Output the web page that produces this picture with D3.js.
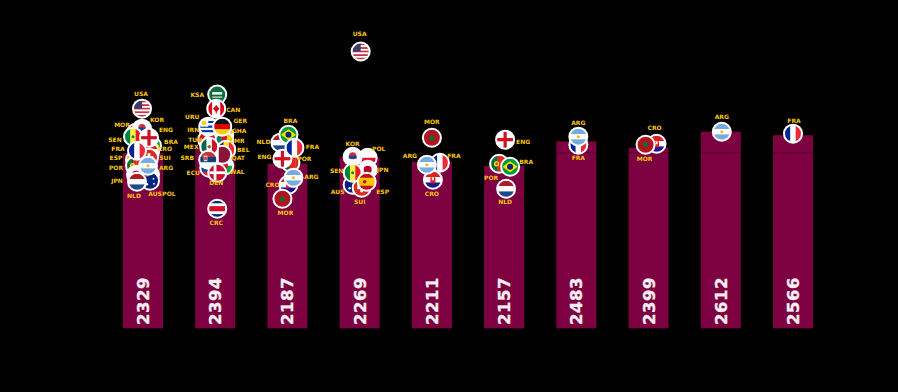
<!DOCTYPE html>
<html>
<head>
<meta charset="utf-8">
<script src="https://cdnjs.cloudflare.com/ajax/libs/d3/7.8.5/d3.min.js"></script>
<style>
html,body{margin:0;padding:0;background:#000;overflow:hidden}
svg{display:block}
</style>
</head>
<body>
<div id="chart"></div>
<script>
// ---- data ----
const barValues = [2329, 2394, 2187, 2269, 2211, 2157, 2483, 2399, 2612, 2566];
const referenceValue = 2335;

const teams1   = ["USA","MOR","KOR","SEN","BRA","CRO","SUI","ESP","POR","FRA","ENG","JPN","POL","AUS","ARG","NLD"];
const ratings1 = [2918,2599,2652,2546,2426,2346,2266,2240,2160,2359,2532,2040,2040,1960,2160,1947];
const spreads1 = [-1,-7,-1,-10,9,7,6,-8,-8,-6,6,-7,7,7,5,-6];

const teams2   = ["KSA","CAN","IRN","GHA","TUN","CMR","URU","GER","BEL","WAL","ECU","QAT","MEX","SRB","DEN","CRC"];
const ratings2 = [3105,2918,2599,2572,2506,2492,2679,2679,2373,2160,2133,2306,2413,2240,2067,1588];
const spreads2 = [2,1,-6,9,-8,9,-7,7,11,9,-6,7,-6,-7,2,2];

const teams3   = ["NLD","BRA","POR","ENG","FRA","CRO","ARG","MOR"];
const ratings3 = [2466,2572,2200,2253,2399,1907,2000,1721];
const spreads3 = [-7,1,3,-5,7,1,6,-5];

const teams4   = ["USA","AUS","SUI","POL","JPN","KOR","SEN","ESP"];
const ratings4 = [3677,1907,1867,2266,2107,2279,2067,1947];
const spreads4 = [1,-7,2,8,8,-7,-7,7];

const teams5   = ["CRO","FRA","ARG","MOR"];
const ratings5 = [1973,2200,2173,2532];
const spreads5 = [1,8,-5,0];

const teams6   = ["ENG","POR","BRA","NLD"];
const ratings6 = [2506,2186,2146,1854];
const spreads6 = [1,-5,6,2];

const teams7   = ["FRA","ARG"];
const ratings7 = [2439,2546];
const spreads7 = [2,2];

const teams8   = ["CRO","MOR"];
const ratings8 = [2452,2439];
const spreads8 = [8,-3];

const teams9   = ["ARG"];
const ratings9 = [2612];
const spreads9 = [1];

const teams10   = ["FRA"];
const ratings10 = [2586];
const spreads10 = [0];

// ---- layout (label nudges relative to each flag, in draw order) ----
const labelNudges = [
  [[-1,-15],[-14,-8],[15,-9],[-18,3],[19,-4],[15,-3],[16,0],[-19,-2],[-19,2],[-19,-2],[17,-8],[-19,6],[19,19],[5,13],[18,2],[-3,14]],
  [[-20,0],[17,1],[-16,-3],[15,-4],[-12,0],[13,0],[-16,-10],[18,-6],[17,0],[13,6],[-16,5],[16,3],[-18,0],[-21,-2],[-1,10],[-1,14]],
  [[-17,-1],[2,-14],[14,-4],[-18,-2],[18,-1],[-16,0],[18,-1],[3,14]],
  [[-1,-18],[-15,7],[-2,14],[11,-9],[15,0],[0,-13],[-16,-2],[16,10]],
  [[-1,14],[14,-7],[-17,-9],[0,-16]],
  [[18,2],[-8,14],[16,-5],[-1,13]],
  [[0,13],[0,-14]],
  [[-2,-16],[-1,14]],
  [[0,-15]],
  [[1,-13]]
];

const rounds = [
  [teams1,ratings1,spreads1],[teams2,ratings2,spreads2],[teams3,ratings3,spreads3],
  [teams4,ratings4,spreads4],[teams5,ratings5,spreads5],[teams6,ratings6,spreads6],
  [teams7,ratings7,spreads7],[teams8,ratings8,spreads8],[teams9,ratings9,spreads9],
  [teams10,ratings10,spreads10]
];

// ---- flag artwork ----
const stripes = {
  USA:["h",["#c8323c","#fff","#c8323c","#fff","#c8323c","#fff","#c8323c","#fff","#c8323c"]],
  IRN:["h",["#239f40","#fff","#da0000"]],
  SEN:["v",["#00853f","#fdef42","#e31b23"]],
  CRO:["h",["#e02020","#fff","#171796"]],
  ESP:["h",["#c60b1e","#ffc400","#ffc400","#c60b1e"]],
  POR:["v",["#046a38","#046a38","#da291c","#da291c","#da291c"]],
  FRA:["v",["#002395","#fff","#ed2939"]],
  POL:["h",["#fff","#dc143c"]],
  ARG:["h",["#74acdf","#fff","#74acdf"]],
  NLD:["h",["#ae1c28","#fff","#21468b"]],
  CAN:["v",["#d80621","#fff","#fff","#d80621"]],
  GHA:["h",["#ce1126","#fcd116","#006b3f"]],
  CMR:["v",["#007a5e","#ce1126","#fcd116"]],
  URU:["h",["#fff","#0038a8","#fff","#0038a8","#fff","#0038a8","#fff"]],
  GER:["h",["#111","#dd0000","#ffce00"]],
  BEL:["v",["#111","#fae042","#ed2939"]],
  WAL:["h",["#fff","#00ab39"]],
  ECU:["h",["#ffdd00","#ffdd00","#034ea2","#ed1c24"]],
  MEX:["v",["#006847","#fff","#ce1126"]],
  SRB:["h",["#c6363c","#0c4076","#fff"]],
  CRC:["h",["#002b7f","#fff","#ce1126","#ce1126","#fff","#002b7f"]]
};
const solids = {MOR:"#b0141f",KOR:"#fff",BRA:"#009c3b",SUI:"#d52b1e",ENG:"#fff",JPN:"#fff",AUS:"#00247d",KSA:"#0a6c38",TUN:"#e70013",QAT:"#8a1538",DEN:"#c8102e"};
const extras = {
  USA:[["rect",-10,-10,10,10,"#3c3b6e"]],
  MOR:[["circle",0,0,2.6,"#0f6b35"]],
  KOR:[["circle",0,-1,3.6,"#cd2e3a"],["rect",-4,-1,8,2.8,"#0047a0"]],
  SEN:[["circle",0,0,1.5,"#00853f"]],
  BRA:[["diamond",7.5,5.5,"#ffdf00"],["circle",0,0,3,"#002776"]],
  CRO:[["rect",-2.5,-2.5,5,6,"#e02020"],["rect",-1,-2.5,2,3,"#fff"]],
  SUI:[["rect",-4.5,-1.4,9,2.8,"#fff"],["rect",-1.4,-4.5,2.8,9,"#fff"]],
  ESP:[["circle",-2,0,1.8,"#ad1519"]],
  POR:[["circle",-2.5,0,2.6,"#ffe900"],["circle",-2.5,0,1.3,"#da291c"]],
  ENG:[["rect",-10,-1.6,20,3.2,"#ce1124"],["rect",-1.6,-10,3.2,20,"#ce1124"]],
  JPN:[["circle",0,0,4,"#bc002d"]],
  AUS:[["circle",3.5,-2,.9,"#fff"],["circle",4,3,.9,"#fff"],["circle",-3,3.5,1.2,"#fff"],["rect",-10,-10,8,6,"#c8323c"]],
  ARG:[["circle",0,0,1.5,"#f6b40e"]],
  KSA:[["rect",-5,-2.5,10,2.5,"#fff"],["rect",-5,2,10,1,"#fff"]],
  CAN:[["diamond",3.2,3.6,"#d80621"],["rect",-.5,2,1,3,"#d80621"]],
  GHA:[["circle",0,0,1.4,"#111"]],
  TUN:[["circle",0,0,3.8,"#fff"],["circle",.5,0,2,"#e70013"]],
  CMR:[["circle",0,0,1,"#fcd116"]],
  URU:[["rect",-10,-10,10,10,"#fff"],["circle",-4,-3.5,2.3,"#fcd116"]],
  WAL:[["circle",0,0,3.6,"#d30731"]],
  ECU:[["circle",0,0,1.6,"#6f4e2a"]],
  QAT:[["rect",-10,-10,6.5,20,"#fff"]],
  MEX:[["circle",0,0,1.8,"#8c6b2d"]],
  SRB:[["rect",-4.5,-4,3.6,5.5,"#fff"],["rect",-4,-3,2.6,3.6,"#c6363c"]],
  DEN:[["rect",-10,-1.4,20,2.8,"#fff"],["rect",-3.6,-10,2.8,20,"#fff"]]
};

function drawFlag(g, code) {
  const art = g.append("g").attr("clip-path", "url(#flagClip)");
  if (stripes[code]) {
    const [dir, cols] = stripes[code];
    const band = d3.scaleBand().domain(d3.range(cols.length)).range([-8, 8]);
    art.selectAll("rect.s").data(cols).join("rect").attr("class", "s")
      .attr("x", (c, i) => dir === "v" ? band(i) : -9)
      .attr("y", (c, i) => dir === "h" ? band(i) : -9)
      .attr("width", dir === "v" ? band.bandwidth() + .2 : 18)
      .attr("height", dir === "h" ? band.bandwidth() + .2 : 18)
      .attr("fill", c => c);
  } else {
    art.append("rect").attr("x", -9).attr("y", -9).attr("width", 18).attr("height", 18).attr("fill", solids[code]);
  }
  (extras[code] || []).forEach(e => {
    if (e[0] === "rect") art.append("rect").attr("x", e[1]).attr("y", e[2]).attr("width", e[3]).attr("height", e[4]).attr("fill", e[5]);
    if (e[0] === "circle") art.append("circle").attr("cx", e[1]).attr("cy", e[2]).attr("r", e[3]).attr("fill", e[4]);
    if (e[0] === "diamond") art.append("path").attr("d", `M${-e[1]},0L0,${-e[2]}L${e[1]},0L0,${e[2]}Z`).attr("fill", e[3]);
  });
}

// ---- chart ----
const W = 898, H = 392;
const svg = d3.select("#chart").append("svg").attr("width", W).attr("height", H).style("background", "#000");
svg.append("defs").append("clipPath").attr("id", "flagClip").append("circle").attr("r", 8);

const x = d3.scaleBand().domain(d3.range(barValues.length)).range([123, 813]).paddingInner(32.2 / 72.2).paddingOuter(0);
const y = d3.scaleLinear().domain([0, 2612]).range([328.3, 131.7]);
const jitter = d3.scaleLinear().domain([-20, 20]).range([-x.bandwidth() / 2, x.bandwidth() / 2]);

svg.append("g").selectAll("rect").data(barValues).join("rect")
  .attr("x", (d, i) => x(i)).attr("width", x.bandwidth())
  .attr("y", d => y(d)).attr("height", d => y(0) - y(d))
  .attr("fill", "#7d0040");

// reference rule (only visible across the bars, black on black elsewhere)
svg.append("line").attr("x1", x.range()[0]).attr("x2", x.range()[1])
  .attr("y1", y(referenceValue)).attr("y2", y(referenceValue))
  .attr("stroke", "#000").attr("stroke-opacity", .28).attr("stroke-width", 1);

// value labels inside bars
svg.append("g").selectAll("text").data(barValues).join("text")
  .attr("transform", (d, i) => `translate(${x(i) + x.bandwidth() / 2},325) rotate(-90)`)
  .attr("dy", ".36em").attr("fill", "#f8eef3")
  .attr("stroke", "#f8eef3").attr("stroke-width", .35)
  .attr("font-family", "'DejaVu Sans',sans-serif").attr("font-weight", 700).attr("font-size", 16.5)
  .attr("letter-spacing", .5)
  .text(d => d);

// flags and team codes, round by round
rounds.forEach(([teams, ratings, spreads], r) => {
  const cx = x(r) + x.bandwidth() / 2;
  const rows = teams.map((t, i) => ({t, v: ratings[i], s: spreads[i], n: labelNudges[r][i]}));
  const layer = svg.append("g");
  const flags = layer.selectAll("g.flag").data(rows).join("g").attr("class", "flag")
    .attr("transform", d => `translate(${cx + jitter(d.s)},${y(d.v)})`);
  flags.append("circle").attr("r", 10).attr("fill", "#fff");
  flags.each(function (d) { drawFlag(d3.select(this), d.t); });
  layer.selectAll("text").data(rows).join("text")
    .attr("x", d => cx + jitter(d.s) + d.n[0])
    .attr("y", d => y(d.v) + d.n[1])
    .attr("dy", ".36em").attr("text-anchor", "middle")
    .attr("font-family", "'DejaVu Sans',sans-serif").attr("font-weight", 700).attr("font-size", 6)
    .attr("fill", "#fbc70f")
    .text(d => d.t);
});
</script>
</body>
</html>
